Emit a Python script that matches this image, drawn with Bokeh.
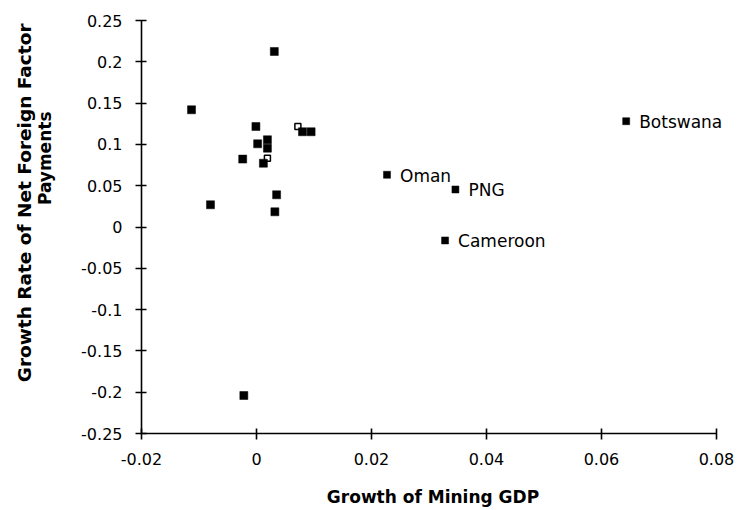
from bokeh.plotting import figure
from bokeh.models import FixedTicker, Range1d, ColumnDataSource, Title
from bokeh.embed import file_html
from bokeh.resources import INLINE
from bokeh.core.properties import value

# Unlabelled countries
mining_growth = [0.0031, -0.0113, -0.0001, 0.0019, 0.0002, 0.0019, -0.0024,
                 0.0012, 0.0080, 0.0095, 0.0035, -0.0080, 0.0032, -0.0022]
payments_growth = [0.2125, 0.1419, 0.1217, 0.1056, 0.1007, 0.0954, 0.0822,
                   0.0772, 0.1153, 0.1153, 0.0390, 0.0269, 0.0184, -0.2040]

# Partly visible markers
partial_mining = [0.0019, 0.0072]
partial_payments = [0.0833, 0.1217]

# Labelled countries
labeled_countries = ["Oman", "PNG", "Cameroon", "Botswana"]
labeled_mining = [0.0227, 0.0346, 0.0328, 0.0643]
labeled_payments = [0.0632, 0.0454, -0.0163, 0.1281]

x_ticks = [-0.02, 0, 0.02, 0.04, 0.06, 0.08]
x_tick_labels = ["-0.02", "0", "0.02", "0.04", "0.06", "0.08"]
y_ticks = [-0.25, -0.2, -0.15, -0.1, -0.05, 0, 0.05, 0.1, 0.15, 0.2, 0.25]
y_tick_labels = ["-0.25", "-0.2", "-0.15", "-0.1", "-0.05", "0", "0.05", "0.1",
                 "0.15", "0.2", "0.25"]

FONT = "DejaVu Sans"

# frame runs a few pixels past 0.08 so the Botswana label is not cut;
# the axis line itself stops at 0.08 via bounds
p = figure(width=740, height=510, output_backend="svg", toolbar_location=None,
           x_range=Range1d(-0.02, 0.0814), y_range=Range1d(-0.25, 0.25),
           min_border_left=141, min_border_right=16, min_border_top=20,
           min_border_bottom=77)
p.outline_line_color = None
p.xgrid.visible = False
p.ygrid.visible = False
p.background_fill_color = "white"
p.border_fill_color = "white"

for ax in (p.xaxis[0], p.yaxis[0]):
    ax.axis_line_color = "black"
    ax.axis_line_width = 1.6
    ax.major_tick_line_color = "black"
    ax.major_tick_line_width = 1.6
    ax.major_tick_in = 5
    ax.major_tick_out = 6
    ax.minor_tick_line_color = None
    ax.major_label_text_font = FONT
    ax.major_label_text_font_size = "16px"
    ax.major_label_text_color = "black"

p.xaxis.bounds = (-0.02, 0.08)
p.xaxis.ticker = FixedTicker(ticks=x_ticks)
p.xaxis.major_label_overrides = {t: l for t, l in zip(x_ticks, x_tick_labels)}
p.yaxis.ticker = FixedTicker(ticks=y_ticks)
p.yaxis.major_label_overrides = {t: l for t, l in zip(y_ticks, y_tick_labels)}
p.xaxis.major_label_standoff = 13
p.yaxis.major_label_standoff = 13

p.xaxis.axis_label = "Growth of Mining GDP"
p.xaxis.axis_label_text_font = FONT
p.xaxis.axis_label_text_font_style = "bold"
p.xaxis.axis_label_text_font_size = "17px"
p.xaxis.axis_label_text_color = "black"
p.xaxis.axis_label_standoff = 19

# y-axis title in two lines (tight line spacing, as in the original)
p.add_layout(Title(text="Payments", align="right", offset=91, standoff=48,
                   text_font=FONT, text_font_style="bold",
                   text_font_size="17px", text_color="black"), "left")
p.add_layout(Title(text="Growth Rate of Net Foreign Factor", align="right",
                   offset=3, standoff=-53,
                   text_font=FONT, text_font_style="bold",
                   text_font_size="18.5px", text_color="black"), "left")

p.scatter(mining_growth, payments_growth, marker="square", size=8,
          fill_color="black", line_color="black", line_width=0.5)
p.scatter(partial_mining, partial_payments, marker="square", size=6,
          fill_color=None, line_color="black", line_width=1.5)

src = ColumnDataSource(dict(x=labeled_mining, y=labeled_payments,
                            name=labeled_countries))
p.scatter("x", "y", source=src, marker="square", size=7,
          fill_color="black", line_color="black", line_width=0.5)
p.text("x", "y", text="name", source=src, x_offset=13, y_offset=1,
       text_align="left", text_baseline="middle",
       text_font=value(FONT), text_font_size="17px", text_color="black")

open("out.html", "w").write(file_html(p, INLINE))
